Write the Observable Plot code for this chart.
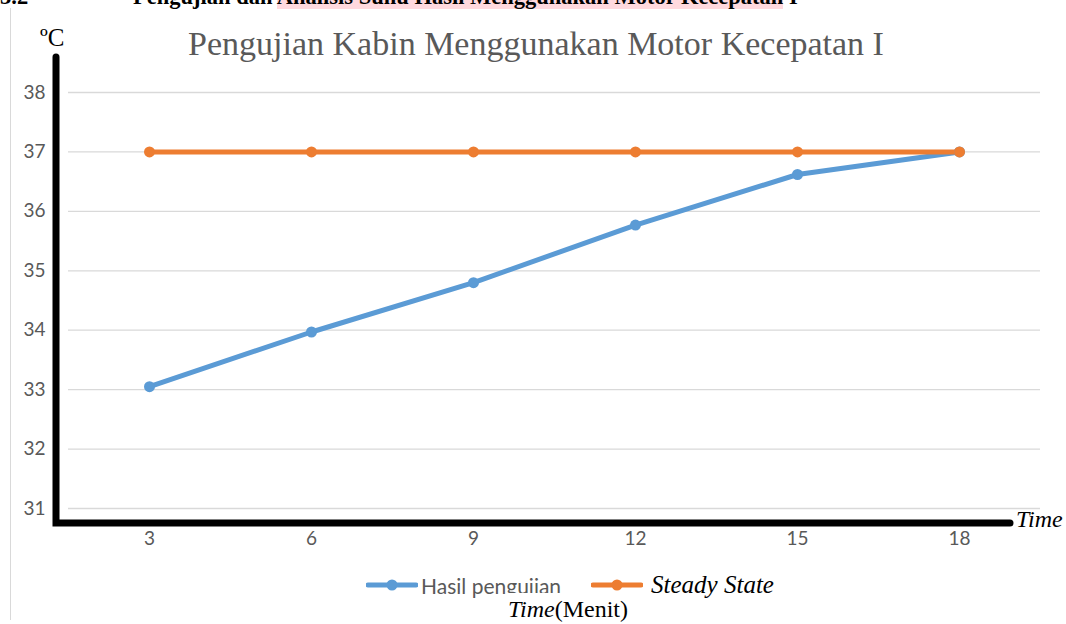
<!DOCTYPE html>
<html>
<head>
<meta charset="utf-8">
<script src="https://cdn.jsdelivr.net/npm/d3@7"></script>
<script src="https://cdn.jsdelivr.net/npm/@observablehq/plot@0.6"></script>
<style>
  html, body { margin: 0; padding: 0; background: #fff; }
  body { width: 1066px; height: 624px; position: relative; overflow: hidden; }
  .abs { position: absolute; white-space: nowrap; }
  #heading { left: 0; top: -16px; font: bold 22.5px "Liberation Serif", serif; color: #000; }
  #heading .hl { background: #ffd9de; }
  #border { left: 10px; top: 8px; width: 1px; height: 612px; background: #d9d9d9; }
  #title { left: 0; width: 1072px; text-align: center; top: 25px; font: 34px "Liberation Serif", serif; color: #595959; }
  #unit { left: 40px; top: 24px; font: 25px "Liberation Serif", serif; color: #000; }
  #timeLabel { left: 1016px; top: 506px; font: italic 24px "Liberation Serif", serif; color: #000; }
  #legend { left: 0; width: 1140px; top: 570px; height: 30px; display: flex; justify-content: center; align-items: center; }
  .item { display: flex; align-items: center; }
  .item + .item { margin-left: 30px; }
  .lab1 { font: 21px Lato, sans-serif; color: #595959; margin-left: 3px; }
  .lab2 { font: italic 25px "Liberation Serif", serif; color: #000; margin-left: 8px; }
  #xtitle { left: 0; width: 1136px; text-align: center; top: 593px; font: 24px "Liberation Serif", serif; color: #000; }
  #xtitle span.bg { display: inline-block; background: #fff; padding: 3px 2px 2px; line-height: 26px; }
  #chart { left: 0; top: 0; }
</style>
</head>
<body>
<div id="border" class="abs"></div>
<div id="heading" class="abs"><span>3.2</span><span style="position:absolute;left:133px">Pengujian dan <span class="hl">Analisis Suhu Hasil Menggunakan Motor Kecepatan</span> I</span></div>
<div id="chart" class="abs"></div>
<div id="title" class="abs">Pengujian Kabin Menggunakan Motor Kecepatan I</div>
<div id="unit" class="abs">ºC</div>
<div id="timeLabel" class="abs">Time</div>
<div id="legend" class="abs"></div>
<div id="xtitle" class="abs"><span class="bg"><i>Time</i>(Menit)</span></div>
<script>
// ---- data ----
const minutes = [3, 6, 9, 12, 15, 18];
const hasilPengujian = [33.05, 33.97, 34.8, 35.77, 36.62, 37.0];
const steadyState = [37, 37, 37, 37, 37, 37];
const seriesNames = ["Hasil pengujian", "Steady State"];
const seriesColors = ["#5B9BD5", "#ED7D31"];
const yTicks = [31, 32, 33, 34, 35, 36, 37, 38];
const xDomain = [1.5, 19.5];

const rows = [];
minutes.forEach((m, i) => rows.push({series: seriesNames[0], minute: m, temp: hasilPengujian[i]}));
minutes.forEach((m, i) => rows.push({series: seriesNames[1], minute: m, temp: steadyState[i]}));

const chart = Plot.plot({
  width: 1066,
  height: 560,
  marginTop: 92,
  marginBottom: 52,
  marginLeft: 68,
  marginRight: 26,
  style: {fontFamily: "Lato, sans-serif", fontSize: "19px", color: "#595959", background: "transparent"},
  x: {domain: xDomain},
  y: {domain: [yTicks[0], yTicks[yTicks.length - 1]]},
  color: {domain: seriesNames, range: seriesColors},
  marks: [
    Plot.ruleY(yTicks, {stroke: "#d9d9d9", strokeWidth: 1.3}),
    Plot.axisX(minutes, {tickSize: 0, tickPadding: 23, label: null, tickFormat: d3.format("d")}),
    Plot.axisY(yTicks, {tickSize: 0, tickPadding: 23, label: null, tickFormat: d3.format("d")}),
    Plot.line(rows, {x: "minute", y: "temp", z: "series", stroke: "series", strokeWidth: 5}),
    Plot.dot(rows, {x: "minute", y: "temp", fill: "series", r: 5.5})
  ]
});
document.getElementById("chart").appendChild(chart);

// decorative thick black axes (Excel drawing shapes), placed relative to the plot frame
const xs = chart.scale("x"), ys = chart.scale("y");
const axLeft = xs.apply(xDomain[0]) - 12;
const axBottom = ys.apply(yTicks[0]) + 15;
const axTop = ys.apply(yTicks[yTicks.length - 1]) - 35;
const axRight = xs.apply(xDomain[1]) - 30;
d3.select(chart).append("path")
  .attr("d", `M${axLeft},${axTop}V${axBottom}H${axRight}`)
  .attr("fill", "none").attr("stroke", "#000").attr("stroke-width", 7)
  .attr("stroke-linejoin", "miter").attr("stroke-linecap", "round");

// legend
const legend = document.getElementById("legend");
seriesNames.forEach((name, i) => {
  const item = document.createElement("div");
  item.className = "item";
  item.innerHTML = `<svg width="52" height="14"><line x1="2" x2="50" y1="7" y2="7" stroke="${seriesColors[i]}" stroke-width="5" stroke-linecap="round"/><circle cx="26" cy="7" r="5.5" fill="${seriesColors[i]}"/></svg><span class="${i === 0 ? "lab1" : "lab2"}">${name}</span>`;
  legend.appendChild(item);
});
</script>
</body>
</html>
